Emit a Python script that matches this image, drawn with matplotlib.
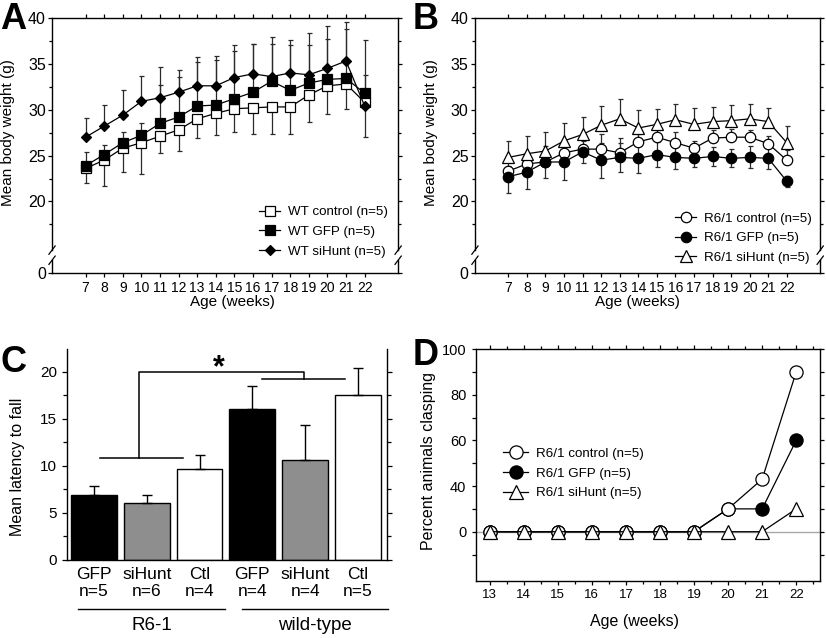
import numpy as np
import matplotlib
matplotlib.use('Agg')
import matplotlib.pyplot as plt
from matplotlib.ticker import FixedLocator, FixedFormatter, NullFormatter

plt.rcParams['font.family'] = ['Liberation Sans', 'DejaVu Sans']

# ---- data ----
weeks = np.arange(7, 23)

# panel A: wild-type body weight (g)
wt_ctrl = [23.6, 24.5, 25.8, 26.4, 27.1, 27.8, 29.0, 29.6, 30.1, 30.2, 30.3, 30.3, 31.6, 32.6, 32.8, 30.8]
wt_ctrl_lo = [22.0, 21.7, 23.2, 23.0, 25.3, 25.5, 26.9, 27.2, 27.6, 27.4, 27.3, 27.3, 28.7, 29.5, 30.1, 27.0]
wt_gfp = [23.9, 25.1, 26.4, 27.2, 28.5, 29.2, 30.4, 30.5, 31.2, 31.9, 33.1, 32.1, 32.9, 33.3, 33.4, 31.8]
wt_gfp_hi = [25.4, 26.2, 27.6, 28.6, 32.7, 33.6, 35.2, 35.4, 36.4, 37.2, 37.1, 37.0, 37.0, 37.7, 38.8, 33.8]
wt_sihunt = [27.0, 28.2, 29.4, 30.9, 31.3, 31.9, 32.6, 32.6, 33.5, 33.9, 33.6, 34.0, 33.8, 34.5, 35.3, 30.4]
wt_sihunt_hi = [29.1, 30.5, 32.1, 33.7, 34.7, 34.3, 35.7, 35.9, 37.0, 37.2, 37.9, 37.6, 38.3, 39.1, 39.6, 37.6]

# panel B: R6/1 body weight (g)
r6_ctrl = [23.3, 24.1, 24.3, 25.3, 25.7, 25.7, 25.3, 26.5, 27.0, 26.4, 25.8, 26.9, 27.0, 27.0, 26.3, 24.5]
r6_ctrl_hi = [23.9, 24.6, 24.8, 25.9, 26.1, 27.3, 26.9, 27.4, 27.8, 27.6, 26.6, 27.8, 27.9, 27.8, 27.1, 25.6]
r6_gfp = [22.7, 23.2, 24.3, 24.3, 25.4, 24.5, 24.8, 24.7, 25.1, 24.8, 24.7, 24.9, 24.7, 24.8, 24.7, 22.2]
r6_gfp_lo = [20.9, 21.4, 22.6, 22.3, 24.2, 22.6, 23.2, 23.1, 23.7, 23.5, 23.7, 23.9, 23.7, 23.6, 23.5, 21.6]
r6_gfp_hi = [24.5, 25.0, 26.0, 26.3, 26.6, 26.4, 26.4, 26.3, 26.5, 26.1, 25.7, 25.9, 25.7, 26.0, 25.9, 22.8]
r6_sihunt = [24.8, 25.2, 25.5, 26.6, 27.3, 28.3, 29.0, 28.0, 28.4, 28.9, 28.4, 28.7, 28.8, 29.0, 28.7, 26.4]
r6_sihunt_hi = [26.6, 27.1, 27.6, 28.6, 29.2, 30.4, 31.2, 30.0, 30.1, 30.6, 30.2, 30.3, 30.5, 30.6, 30.2, 28.2]

# panel C: latency to fall
bar_labels = ['GFP\nn=5', 'siHunt\nn=6', 'Ctl\nn=4', 'GFP\nn=4', 'siHunt\nn=4', 'Ctl\nn=5']
latency = [6.9, 6.1, 9.7, 16.0, 10.6, 17.5]
latency_hi = [7.9, 6.9, 11.1, 18.5, 14.3, 20.4]
bar_colors = ['black', '#8e8e8e', 'white', 'black', '#8e8e8e', 'white']
groups = ['R6-1', 'wild-type']

# panel D: percent clasping
clasp_weeks = np.arange(13, 23)
clasp_ctrl = [0, 0, 0, 0, 0, 0, 0, 20, 43, 90]
clasp_gfp = [0, 0, 0, 0, 0, 0, 0, 20, 20, 60]
clasp_sihunt = [0, 0, 0, 0, 0, 0, 0, 0, 0, 20]

fig = plt.figure(figsize=(8.26, 6.38), dpi=100)


def style_ticks(ax, size_x, size_y):
    ax.tick_params(which='both', direction='out', width=0.9, top=True, right=True)
    ax.tick_params(which='major', length=3)
    ax.tick_params(which='minor', length=2.5)
    ax.tick_params(axis='x', labelsize=size_x)
    ax.tick_params(axis='y', labelsize=size_y)
    for s in ax.spines.values():
        s.set_linewidth(1.0)


def weight_panel(ax, series, legend_anchor):
    ybot = 12.2
    ax.set_xlim(5.2, 23.8)
    ax.set_ylim(ybot, 40)
    for z, (mean, lo, hi, marker, face, ms, label) in enumerate(series):
        mean = np.array(mean)
        lo = mean if lo is None else np.array(lo)
        hi = mean if hi is None else np.array(hi)
        ax.errorbar(weeks, mean, yerr=[mean - lo, hi - mean], fmt='none', ecolor='#2a2a2a',
                    elinewidth=0.9, capsize=1.8, capthick=0.9, zorder=2)
        ax.plot(weeks, mean, color='black', lw=0.9, marker=marker, ms=ms, mfc=face,
                mec='black', mew=0.9, label=label, zorder=3 + z)
    ax.set_xticks(weeks)
    ax.set_yticks([ybot, 20, 25, 30, 35, 40])
    ax.set_yticklabels(['0', '20', '25', '30', '35', '40'])
    ax.yaxis.set_minor_locator(FixedLocator([17.5, 22.5, 27.5, 32.5, 37.5]))
    style_ticks(ax, 10, 11.5)
    ax.tick_params(axis='y', which='major', pad=1.5)
    ax.tick_params(axis='x', which='major', pad=3)
    # broken y axis
    ylo, yhi = 13.6, 14.7
    ax.spines['left'].set_bounds(yhi, 40)
    ax.spines['right'].set_bounds(yhi, 40)
    tr = ax.get_yaxis_transform()
    for x in (0, 1):
        ax.plot([x, x], [ybot, ylo], color='black', lw=1.0, transform=tr, clip_on=False)
        for yb in (ylo, yhi):
            ax.plot([x - 0.009, x + 0.009], [yb - 0.45, yb + 0.45], color='black', lw=0.9,
                    transform=tr, clip_on=False)
    ax.set_xlabel('Age (weeks)', fontsize=11)
    ax.set_ylabel('Mean body weight (g)', fontsize=11)
    ax.yaxis.set_label_coords(-0.107, 0.55)
    ax.legend(loc='lower right', bbox_to_anchor=legend_anchor, frameon=False, fontsize=9.6,
              handlelength=1.6, handletextpad=0.55, labelspacing=0.55, borderpad=0,
              borderaxespad=0)


# ---- panel A ----
axA = fig.add_axes([0.063, 0.572, 0.419, 0.400])
weight_panel(axA, [
    (wt_ctrl, wt_ctrl_lo, None, 's', 'white', 7.2, 'WT control (n=5)'),
    (wt_gfp, None, wt_gfp_hi, 's', 'black', 7.2, 'WT GFP (n=5)'),
    (wt_sihunt, None, wt_sihunt_hi, 'D', 'black', 5.3, 'WT siHunt (n=5)'),
], (0.97, 0.06))
axA.xaxis.set_label_coords(0.52, -0.085)

# ---- panel B ----
axB = fig.add_axes([0.575, 0.572, 0.418, 0.400])
weight_panel(axB, [
    (r6_ctrl, None, r6_ctrl_hi, 'o', 'white', 7.5, 'R6/1 control (n=5)'),
    (r6_gfp, r6_gfp_lo, r6_gfp_hi, 'o', 'black', 7.5, 'R6/1 GFP (n=5)'),
    (r6_sihunt, None, r6_sihunt_hi, '^', 'white', 8, 'R6/1 siHunt (n=5)'),
], (0.975, 0.035))
axB.xaxis.set_label_coords(0.47, -0.085)

# ---- panel C ----
axC = fig.add_axes([0.0811, 0.1223, 0.3874, 0.3307])
xpos = np.arange(len(latency))
lat = np.array(latency)
axC.bar(xpos, lat, width=0.87, color=bar_colors, edgecolor='black', linewidth=1.0, zorder=2)
axC.errorbar(xpos, lat, yerr=[np.zeros(len(lat)), np.array(latency_hi) - lat], fmt='none',
             ecolor='black', elinewidth=1.0, capsize=3.5, capthick=1.0, zorder=3)
axC.set_xlim(-0.51, 5.55)
axC.set_ylim(0, 22.4)
axC.set_xticks(xpos)
axC.set_xticklabels(bar_labels, fontsize=12.5, linespacing=1.15)
axC.tick_params(axis='x', length=0, pad=5)
axC.set_yticks([0, 5, 10, 15, 20])
axC.yaxis.set_minor_locator(FixedLocator([2.5, 7.5, 12.5, 17.5]))
axC.tick_params(axis='y', which='both', direction='out', right=True, width=0.9, labelsize=11)
axC.tick_params(axis='y', which='major', length=3.5, pad=3.5)
axC.tick_params(axis='y', which='minor', length=3)
axC.spines['top'].set_visible(False)
for s in axC.spines.values():
    s.set_linewidth(1.0)
axC.set_ylabel('Mean latency to fall', fontsize=11.5)
axC.yaxis.set_label_coords(-0.13, 0.44)

# significance bracket
br = dict(color='black', lw=1.1, zorder=4)
axC.plot([0.11, 1.69], [10.85, 10.85], **br)
axC.plot([0.85, 0.85, 3.98, 3.98], [10.85, 20.0, 20.0, 19.25], **br)
axC.plot([3.18, 4.75], [19.25, 19.25], **br)
axC.text(2.37, 18.8, '*', fontsize=22, fontweight='bold', ha='center', va='bottom')

# group lines
trC = axC.get_xaxis_transform()
for (x0, x1), name in zip([(-0.30, 2.48), (2.80, 5.57)], groups):
    axC.plot([x0, x1], [-0.232, -0.232], color='black', lw=1.0, transform=trC, clip_on=False)
    axC.text((x0 + x1) / 2, -0.31, name, fontsize=13.5, ha='center', va='center',
             transform=trC)

# ---- panel D ----
def fwd(y):
    y = np.asarray(y, dtype=float)
    return np.where(y >= 40, y, 20 + y / 2)


def inv(p):
    p = np.asarray(p, dtype=float)
    return np.where(p >= 40, p, (p - 20) * 2)


axD = fig.add_axes([0.5763, 0.0893, 0.4165, 0.3636])
axD.set_yscale('function', functions=(fwd, inv))
axD.axhline(0, color='#a8a8a8', lw=1.0, zorder=1)
hg, = axD.plot(clasp_weeks, clasp_gfp, color='black', lw=0.9, marker='o', ms=9.5, mfc='black',
               mec='black', mew=0.9, zorder=3, label='R6/1 GFP (n=5)')
hc, = axD.plot(clasp_weeks, clasp_ctrl, color='black', lw=0.9, marker='o', ms=9.5, mfc='white',
               mec='black', mew=0.9, zorder=4, label='R6/1 control (n=5)')
hs, = axD.plot(clasp_weeks, clasp_sihunt, color='black', lw=0.9, marker='^', ms=10, mfc='white',
               mec='black', mew=0.9, zorder=5, label='R6/1 siHunt (n=5)')
axD.set_xlim(12.6, 22.7)
axD.set_ylim(-43.2, 100)
axD.set_xticks(clasp_weeks)
axD.xaxis.set_minor_locator(FixedLocator(np.arange(13.5, 22.6, 1.0)))
axD.yaxis.set_major_locator(FixedLocator([0, 40, 60, 80, 100]))
axD.yaxis.set_major_formatter(FixedFormatter(['0', '40', '60', '80', '100']))
axD.yaxis.set_minor_locator(FixedLocator([-20, 20, 50, 70, 90]))
axD.yaxis.set_minor_formatter(NullFormatter())
style_ticks(axD, 9.5, 10.5)
axD.tick_params(axis='y', which='both', length=3)
axD.tick_params(axis='y', which='major', pad=4)
axD.tick_params(axis='x', which='major', pad=2.5)
axD.set_xlabel('Age (weeks)', fontsize=11.5)
axD.xaxis.set_label_coords(0.46, -0.14)
axD.set_ylabel('Percent animals clasping', fontsize=11.5)
axD.yaxis.set_label_coords(-0.116, 0.517)
axD.legend(handles=[hc, hg, hs], loc='upper left', bbox_to_anchor=(0.078, 0.575), frameon=False,
           fontsize=9.6, handlelength=1.9, handletextpad=0.6, labelspacing=0.55, borderpad=0,
           borderaxespad=0)

# panel letters
for x, y, letter in [(0.0, 0.997, 'A'), (0.499, 0.997, 'B'), (0.0, 0.46, 'C'), (0.499, 0.47, 'D')]:
    fig.text(x, y, letter, fontsize=26, fontweight='bold', ha='left', va='top')

fig.savefig('out.png', dpi=100)
